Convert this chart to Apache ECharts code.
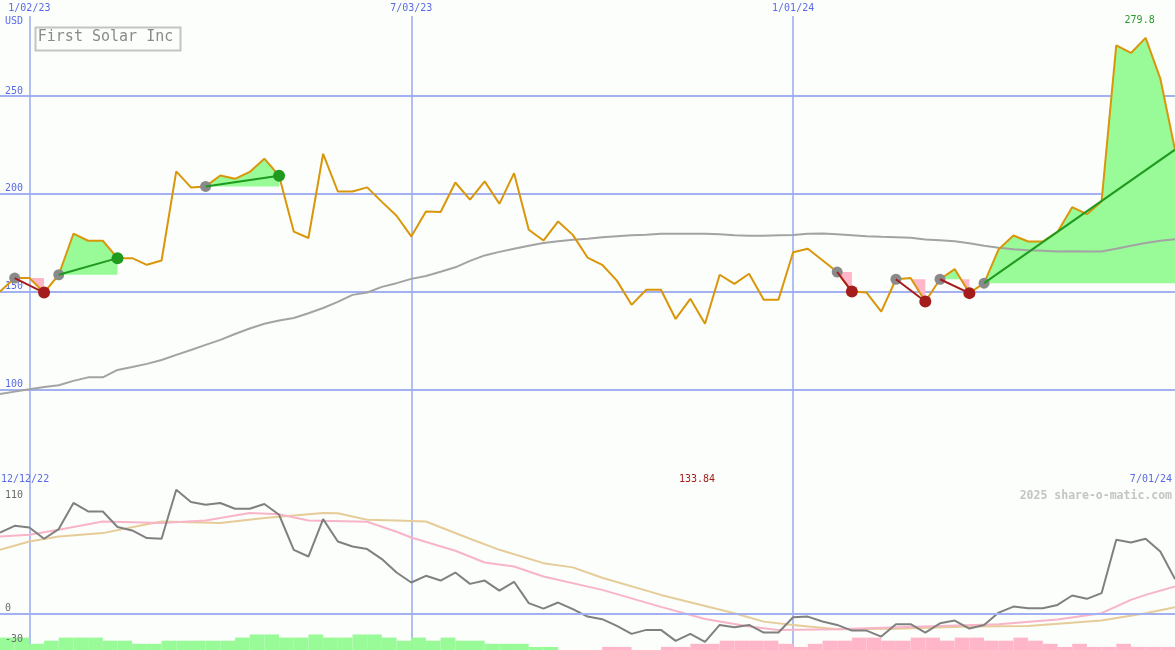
<!DOCTYPE html>
<html><head><meta charset="utf-8">
<script src="https://cdn.jsdelivr.net/npm/echarts@6/dist/echarts.min.js"></script>
<style>html,body{margin:0;padding:0;background:#fbfefb}#c{width:1175px;height:650px}</style>
</head><body><div id="c"></div>
<script>
// ---------- data ----------
const TITLE = 'First Solar Inc';
const CURRENCY = 'USD';
const RANGE_START = '12/12/22';
const RANGE_END = '7/01/24';
const LOW_LABEL = '133.84';
const CREDIT = '2025 share-o-matic.com';
const DATES = ['12/19/22','12/26/22','1/02/23','1/09/23','1/16/23','1/23/23','1/30/23','2/06/23','2/13/23','2/20/23',
'2/27/23','3/06/23','3/13/23','3/20/23','3/27/23','4/03/23','4/10/23','4/17/23','4/24/23','5/01/23',
'5/08/23','5/15/23','5/22/23','5/29/23','6/05/23','6/12/23','6/19/23','6/26/23','7/03/23','7/10/23',
'7/17/23','7/24/23','7/31/23','8/07/23','8/14/23','8/21/23','8/28/23','9/04/23','9/11/23','9/18/23',
'9/25/23','10/02/23','10/09/23','10/16/23','10/23/23','10/30/23','11/06/23','11/13/23','11/20/23','11/27/23',
'12/04/23','12/11/23','12/18/23','12/25/23','1/01/24','1/08/24','1/15/24','1/22/24','1/29/24','2/05/24',
'2/12/24','2/19/24','2/26/24','3/04/24','3/11/24','3/18/24','3/25/24','4/01/24','4/08/24','4/15/24',
'4/22/24','4/29/24','5/06/24','5/13/24','5/20/24','5/27/24','6/03/24','6/10/24','6/17/24','6/24/24','7/01/24'];
const TOP_TICKS = ['1/02/23','7/03/23','1/01/24'];
const PRICE_TICKS = [100,150,200,250];
const OSC_TICKS = [110,0,-30];
const PRICE = [150.0,156.9,156.9,149.5,158.6,179.6,176.0,176.0,167.1,167.1,
163.7,165.9,211.5,203.3,203.8,209.4,207.7,211.2,218.0,209.3,
180.7,177.4,220.5,201.2,201.2,203.3,195.9,188.8,178.2,191.0,
190.7,205.8,197.0,206.4,194.9,210.6,181.6,176.1,185.9,179.0,
167.4,163.7,155.6,143.2,150.9,150.9,136.0,146.3,133.5,158.6,
153.9,159.1,145.8,145.8,170.1,171.9,166.0,160.0,150.0,149.5,
139.7,156.3,156.9,144.9,156.3,161.5,149.2,154.3,171.7,178.7,
175.6,175.6,180.5,193.2,189.6,196.1,276.0,272.1,279.8,259.0,222.6];
const PRICE_MA = [97.6,98.8,100.0,101.2,102.1,104.3,106.1,106.1,109.9,111.4,
113.0,115.0,117.6,120.1,122.7,125.3,128.3,131.1,133.5,135.2,
136.5,138.9,141.6,144.7,148.3,149.5,152.4,154.3,156.5,158.0,
160.1,162.4,165.7,168.5,170.3,171.9,173.4,174.8,175.7,176.5,
177.0,177.8,178.3,178.8,179.1,179.6,179.6,179.6,179.6,179.3,
178.8,178.5,178.5,178.8,179.0,179.6,179.7,179.3,178.8,178.3,
178.0,177.8,177.5,176.7,176.2,175.7,174.7,173.4,172.4,171.6,
171.1,170.9,170.5,170.6,170.5,170.5,171.9,173.4,174.9,176.0,176.8];
// signals: start index, end index, end marker shown (1/0)
const SIGNAL_START = [1,4,14,57,61,64,67];
const SIGNAL_END   = [3,8,19,58,63,66,80];
const SIGNAL_MARK  = [1,1,1,1,1,1,0];
// lower panel
const OSC = [78.9,85.4,83.8,72.8,82.2,107.5,99.3,99.3,84.2,80.9,
73.5,72.8,120.4,108.4,105.8,107.5,101.9,101.9,106.5,96.1,
62.1,55.6,91.9,70.2,65.3,62.8,53.1,40.1,30.4,36.9,
32.3,40.1,29.1,32.3,22.6,31.1,10.4,5.1,11.0,4.6,
-2.6,-5.1,-11.7,-19.4,-15.5,-15.5,-26.2,-19.4,-27.2,-10.7,
-12.9,-10.7,-18.1,-18.1,-3.2,-2.6,-7.4,-10.7,-16.2,-16.2,
-22.0,-10.0,-10.0,-18.1,-9.1,-6.5,-14.2,-10.7,1.3,7.1,
5.5,5.5,8.7,17.8,14.6,20.1,71.8,69.2,72.8,60.5,33.7];
const OSC_FAST = [[0,75.0],[2,76.7],[4,81.6],[7,89.6],[11,88.1],[14,90.6],[17,97.8],[19,96.6],[21,90.6],[25,89.3],
[27,79.6],[28,74.1],[31,61.2],[33,49.8],[35,45.9],[37,36.2],[41,23.3],[45,6.8],[48,-4.9],[51,-12.3],
[53,-15.5],[57,-14.9],[59,-13.9],[64,-11.7],[68,-10.0],[72,-5.5],[75,0.7],[77,13.6],[78,18.4],[80,26.5]];
const OSC_SLOW = [[0,62.1],[2,70.2],[4,75.0],[7,78.3],[10,86.9],[11,89.6],[15,88.1],[18,92.9],[22,97.8],[23,97.6],
[25,91.3],[27,90.6],[29,89.6],[32,72.8],[34,62.1],[37,49.2],[39,45.1],[41,35.0],[45,18.4],[50,0.7],
[52,-7.5],[54,-10.7],[57,-14.9],[61,-14.3],[66,-12.3],[70,-11.7],[75,-6.5],[78,0.7],[80,6.5]];
const HIST = [4,4,2,3,4,4,4,3,3,2, 2,3,3,3,3,3,4,5,5,4, 4,5,4,4,5,5,4,3,4,3, 4,3,3,2,2,2,1,1,0,0,
0,-1,-1,0,0,-1,-1,-2,-2,-3, -3,-3,-3,-2,-1,-2,-3,-3,-4,-4, -3,-3,-4,-4,-3,-4,-4,-3,-3,-4, -3,-2,-1,-2,-1,-1,-2,-1,-1,-1];

// ---------- style ----------
const MONO = '"DejaVu Sans Mono", "Liberation Mono", monospace';
const BLUE_TXT = '#5b6ae6';
const GRID_C = '#a3b1f0';
const VGRID_C = '#9aaaf0';
const GREEN_FILL = '#98fb98';
const PINK_FILL = '#ffb6c8';

const chart = echarts.init(document.getElementById('c'), null, {renderer: 'canvas'});
const showTop = (i, v) => TOP_TICKS.includes(typeof v === 'string' ? v : DATES[i]);

function fillItem(params, api) {
  const s = api.value(0), e = api.value(1);
  const ly = api.coord([s, PRICE[s]])[1];
  const pts = [];
  for (let i = s; i <= e; i++) pts.push(api.coord([i, PRICE[i]]));
  function clip(above) {
    const out = [[pts[0][0], ly]];
    for (let j = 0; j < pts.length; j++) {
      const p = pts[j];
      if (j > 0) {
        const q = pts[j - 1];
        if ((q[1] - ly) * (p[1] - ly) < 0) {
          const t = (ly - q[1]) / (p[1] - q[1]);
          out.push([q[0] + t * (p[0] - q[0]), ly]);
        }
      }
      out.push([p[0], above ? Math.min(p[1], ly) : Math.max(p[1], ly)]);
    }
    out.push([pts[pts.length - 1][0], ly]);
    return out;
  }
  return {type: 'group', children: [
    {type: 'polygon', shape: {points: clip(true)}, style: {fill: GREEN_FILL}},
    {type: 'polygon', shape: {points: clip(false)}, style: {fill: PINK_FILL}}
  ]};
}
function markItem(params, api) {
  const s = api.value(0), e = api.value(1), m = api.value(2);
  const a = api.coord([s, PRICE[s]]), b = api.coord([e, PRICE[e]]);
  const col = PRICE[e] > PRICE[s] ? '#1f9a1f' : '#a51c1c';
  const ch = [
    {type: 'circle', shape: {cx: a[0], cy: a[1], r: 5.5}, style: {fill: '#8a8a8a'}},
    {type: 'line', shape: {x1: a[0], y1: a[1], x2: b[0], y2: b[1]}, style: {stroke: col, lineWidth: 2}}
  ];
  if (m) ch.push({type: 'circle', shape: {cx: b[0], cy: b[1], r: 6}, style: {fill: col}});
  return {type: 'group', children: ch};
}
const signals = SIGNAL_START.map((s, i) => [s, SIGNAL_END[i], SIGNAL_MARK[i]]);

chart.setOption({
  animation: false,
  backgroundColor: '#fbfefb',
  textStyle: {fontFamily: MONO},
  grid: [
    {left: 0, right: 0, top: 16, height: 471},
    {left: 0, right: 0, top: 487, height: 163},
    {left: 0, right: 0, top: 619, height: 31}
  ],
  xAxis: [
    {type: 'category', gridIndex: 0, data: DATES, boundaryGap: false, position: 'top',
     axisLine: {show: false}, axisTick: {show: false},
     axisLabel: {interval: showTop, color: BLUE_TXT, fontSize: 10, fontFamily: MONO, margin: 3},
     splitLine: {show: true, interval: showTop, lineStyle: {color: VGRID_C, width: 1.5}}},
    {type: 'category', gridIndex: 1, data: DATES, boundaryGap: false, position: 'top',
     axisLine: {show: true, lineStyle: {color: '#7b88ee', width: 2}}, axisTick: {show: false},
     axisLabel: {show: false},
     splitLine: {show: true, interval: showTop, lineStyle: {color: VGRID_C, width: 1.5}}},
    {type: 'category', gridIndex: 2, data: HIST.map((v, i) => i), boundaryGap: true, show: false}
  ],
  yAxis: [
    {type: 'value', gridIndex: 0, min: 50, max: 291, interval: 50,
     axisLine: {show: false}, axisTick: {show: false},
     axisLabel: {inside: true, margin: 5, verticalAlign: 'bottom', color: BLUE_TXT, fontSize: 10, fontFamily: MONO,
       showMinLabel: false, showMaxLabel: false,
       formatter: v => PRICE_TICKS.includes(v) ? String(v) : ''},
     splitLine: {show: true, showMinLine: false, showMaxLine: false, lineStyle: {color: GRID_C, width: 2}}},
    {type: 'value', gridIndex: 1, min: -35, max: 123, z: 10,
     axisLine: {show: false}, axisTick: {show: false}, splitLine: {show: false},
     axisLabel: {inside: true, margin: 5, verticalAlign: 'bottom', color: '#6a6a6a', fontSize: 10, fontFamily: MONO,
       customValues: OSC_TICKS, formatter: v => String(v)}},
    {type: 'value', gridIndex: 2, min: 0, max: 10, show: false}
  ],
  graphic: [
    {type: 'rect', left: 33, top: 25, shape: {width: 145, height: 23}, style: {fill: 'none', stroke: '#c4c4c4', lineWidth: 2}, z: 100},
    {type: 'text', x: 105.5, y: 37, style: {text: TITLE, font: '15px ' + MONO, fill: '#8a8a8a', textAlign: 'center', textVerticalAlign: 'middle'}, z: 100},
    {type: 'text', x: 5, y: 21, style: {text: CURRENCY, font: '10px ' + MONO, fill: BLUE_TXT, textAlign: 'left', textVerticalAlign: 'middle'}, z: 100},
    {type: 'text', x: 1, y: 479, style: {text: RANGE_START, font: '10px ' + MONO, fill: BLUE_TXT, textAlign: 'left', textVerticalAlign: 'middle'}, z: 100},
    {type: 'text', x: 1172, y: 479, style: {text: RANGE_END, font: '10px ' + MONO, fill: BLUE_TXT, textAlign: 'right', textVerticalAlign: 'middle'}, z: 100},
    {type: 'text', x: 697, y: 479, style: {text: LOW_LABEL, font: '10px ' + MONO, fill: '#a51c1c', textAlign: 'center', textVerticalAlign: 'middle'}, z: 100},
    {type: 'text', x: 1172, y: 496, style: {text: CREDIT, font: 'bold 11.5px ' + MONO, fill: '#c4c4c4', textAlign: 'right', textVerticalAlign: 'middle'}, z: 100}
  ],
  series: [
    {type: 'custom', xAxisIndex: 0, yAxisIndex: 0, renderItem: fillItem, data: signals, z: 1, silent: true},
    {type: 'line', xAxisIndex: 0, yAxisIndex: 0, data: PRICE_MA, symbol: 'none', z: 2,
     lineStyle: {color: '#a3a3a3', width: 2}},
    {type: 'line', xAxisIndex: 0, yAxisIndex: 0, data: PRICE, symbol: 'none', z: 3,
     lineStyle: {color: '#da960a', width: 2},
     markPoint: {symbol: 'circle', symbolSize: 0, data: [{type: 'max'}],
       label: {show: true, position: 'top', distance: 12, offset: [-6, 0], color: '#2a9a2a', fontSize: 10, fontFamily: MONO,
         formatter: p => Number(p.value).toFixed(1)}}},
    {type: 'custom', xAxisIndex: 0, yAxisIndex: 0, renderItem: markItem, data: signals, z: 4, silent: true},
    {type: 'bar', xAxisIndex: 2, yAxisIndex: 2, barCategoryGap: '0%', z: 1, silent: true,
     data: HIST.map(v => ({value: Math.abs(v), itemStyle: {color: v > 0 ? GREEN_FILL : PINK_FILL}}))},
    {type: 'line', xAxisIndex: 1, yAxisIndex: 1, data: OSC_SLOW, symbol: 'none', z: 2,
     lineStyle: {color: '#e6cc99', width: 2}},
    {type: 'line', xAxisIndex: 1, yAxisIndex: 1, data: OSC_FAST, symbol: 'none', z: 3,
     lineStyle: {color: '#f8b4c8', width: 2}},
    {type: 'line', xAxisIndex: 1, yAxisIndex: 1, data: OSC, symbol: 'none', z: 4,
     lineStyle: {color: '#808080', width: 2},
     markLine: {silent: true, symbol: 'none', label: {show: false}, data: [{yAxis: 0}],
       lineStyle: {color: GRID_C, width: 2, type: 'solid'}}}
  ]
});
</script></body></html>
